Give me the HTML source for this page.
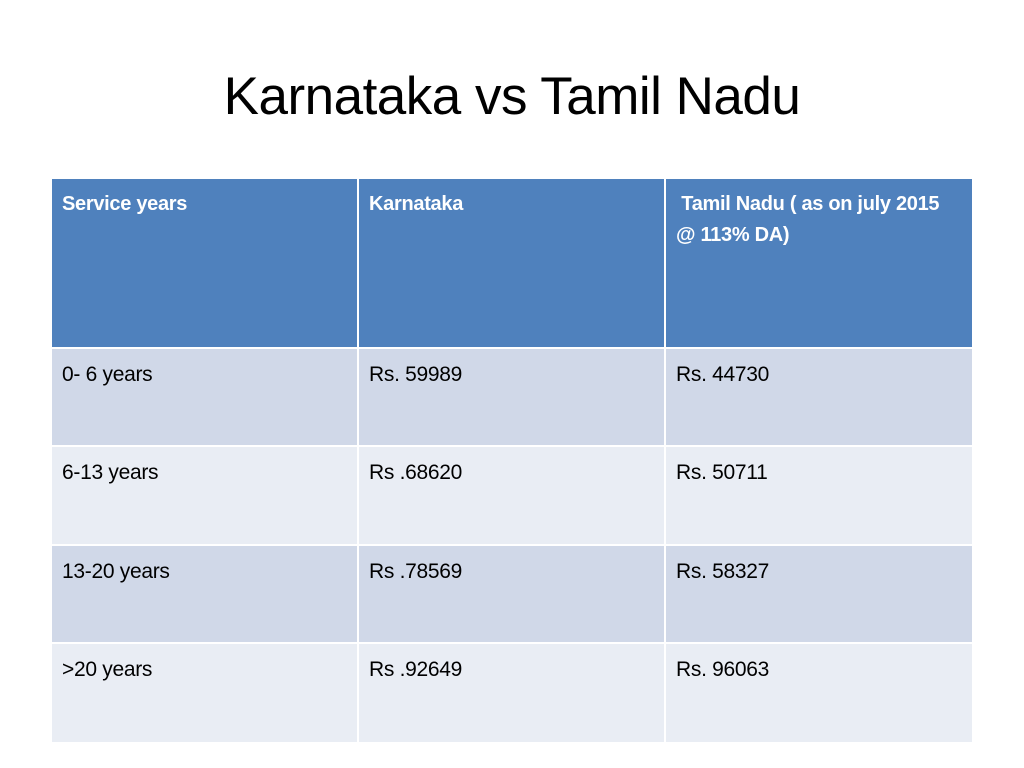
<!DOCTYPE html>
<html>
<head>
<meta charset="utf-8">
<style>
  html,body{margin:0;padding:0;background:#fff;}
  body{width:1024px;height:768px;position:relative;overflow:hidden;font-family:"Liberation Sans",Arial,sans-serif;}
  #title{position:absolute;left:0;width:1024px;top:62px;text-align:center;font-size:53px;color:#000;line-height:70px;letter-spacing:-0.5px;}
  .cell{position:absolute;box-sizing:border-box;padding:10px 10px 0 10px;font-size:21px;line-height:31px;color:#000;letter-spacing:-0.3px;}
  .hdr{background:#4F81BD;color:#fff;font-weight:bold;font-size:20px;}
  .odd{background:#D0D8E8;}
  .even{background:#E9EDF4;}
</style>
</head>
<body>
<div id="title">Karnataka vs Tamil Nadu</div>
<div>
  <div class="cell hdr" style="left:52px;top:179px;width:305px;height:168px;">Service years</div>
  <div class="cell hdr" style="left:359px;top:179px;width:305px;height:168px;">Karnataka</div>
  <div class="cell hdr" style="left:666px;top:179px;width:306px;height:168px;">&nbsp;Tamil Nadu ( as on july 2015 @ 113% DA)</div>

  <div class="cell odd" style="left:52px;top:349px;width:305px;height:96px;">0- 6 years</div>
  <div class="cell odd" style="left:359px;top:349px;width:305px;height:96px;">Rs. 59989</div>
  <div class="cell odd" style="left:666px;top:349px;width:306px;height:96px;">Rs. 44730</div>

  <div class="cell even" style="left:52px;top:447px;width:305px;height:97px;">6-13 years</div>
  <div class="cell even" style="left:359px;top:447px;width:305px;height:97px;">Rs .68620</div>
  <div class="cell even" style="left:666px;top:447px;width:306px;height:97px;">Rs. 50711</div>

  <div class="cell odd" style="left:52px;top:546px;width:305px;height:96px;">13-20 years</div>
  <div class="cell odd" style="left:359px;top:546px;width:305px;height:96px;">Rs .78569</div>
  <div class="cell odd" style="left:666px;top:546px;width:306px;height:96px;">Rs. 58327</div>

  <div class="cell even" style="left:52px;top:644px;width:305px;height:98px;">&gt;20 years</div>
  <div class="cell even" style="left:359px;top:644px;width:305px;height:98px;">Rs .92649</div>
  <div class="cell even" style="left:666px;top:644px;width:306px;height:98px;">Rs. 96063</div>
</div>
</body>
</html>
